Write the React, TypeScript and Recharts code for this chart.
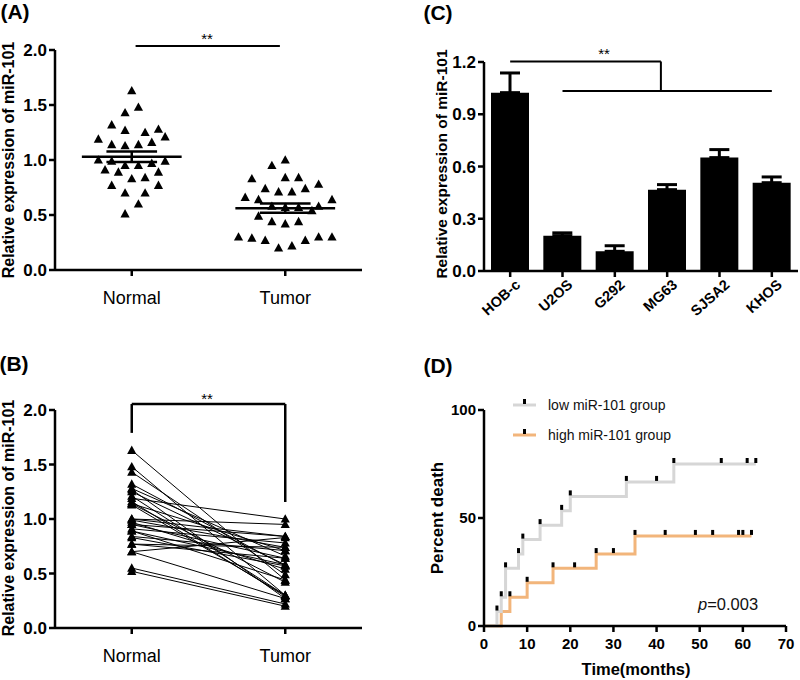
import React from "react";
import {
  ScatterChart,
  Scatter,
  LineChart,
  Line,
  BarChart,
  Bar,
  ErrorBar,
  ComposedChart,
  XAxis,
  YAxis,
  ReferenceLine,
} from "recharts";

const FONT = "'Liberation Sans', Arial, Helvetica, sans-serif";

// (A) miR-101 in tissue, with the column each point sits in (half-symbol steps)
const normalValues = [1.63, 1.43, 1.48, 1.32, 1.27, 1.25, 1.28, 1.19, 1.21, 1.14, 1.13, 1.14, 1.16, 1.0, 0.99, 0.95, 0.95, 0.97, 0.99, 0.91, 0.89, 0.89, 0.83, 0.84, 0.77, 0.77, 0.7, 0.7, 0.6, 0.51];
const normalColumns = [0, -1, 1, -3, -1, 2, 4, -5, 5, -3, -1, 1, 3, -5, -3, -1, 1, 3, 5, -4, -2, 4, 0, 2, -3, 4, -1, 2, 1, -1];
const tumorValues = [1.0, 0.95, 0.83, 0.84, 0.84, 0.78, 0.74, 0.71, 0.71, 0.74, 0.66, 0.64, 0.64, 0.58, 0.57, 0.57, 0.58, 0.54, 0.49, 0.44, 0.42, 0.44, 0.3, 0.29, 0.27, 0.27, 0.3, 0.3, 0.2, 0.22];
const tumorColumns = [0, -2, -5, 0, 2, 5, -3, -1, 1, 3, -6, -4, 7, -2, 0, 2, 5, 4, -4, -2, 0, 2, -7, -5, -3, 3, 5, 7, -1, 1];

// (B) paired samples
const pairedNormal = [1.63, 1.48, 1.43, 1.32, 1.28, 1.27, 1.25, 1.21, 1.19, 1.16, 1.14, 1.14, 1.13, 1.0, 1.0, 0.99, 0.97, 0.95, 0.95, 0.91, 0.89, 0.89, 0.84, 0.83, 0.77, 0.77, 0.7, 0.7, 0.55, 0.52];
const pairedTumor = [0.44, 0.3, 0.49, 0.57, 0.66, 0.27, 0.58, 0.3, 1.0, 0.29, 0.71, 0.42, 0.3, 0.95, 0.84, 0.74, 0.54, 0.84, 0.64, 0.78, 0.58, 0.44, 0.71, 0.57, 0.74, 0.64, 0.83, 0.27, 0.22, 0.2];

// (C) cell lines
const cellLines = ["HOB-c", "U2OS", "G292", "MG63", "SJSA2", "KHOS"];
const cellMeans = [1.024, 0.203, 0.113, 0.467, 0.651, 0.507];
const cellErrors = [0.113, 0.016, 0.032, 0.029, 0.046, 0.033];

// (D) Kaplan-Meier, percent death
const lowTimes = [0, 3, 4, 5, 8, 9, 13, 18, 20, 33, 40, 44, 55, 61, 63];
const lowDeath = [0, 6.7, 13.3, 26.7, 33.3, 40, 46.7, 53.3, 60, 66.7, 66.7, 75, 75, 75, 75];
const lowMarks = [3, 4, 5, 8, 9, 13, 18, 20, 33, 40, 44, 55, 61, 63];
const highTimes = [0, 4, 6, 10, 16, 21, 26, 30, 35, 42, 49, 53, 59, 60, 62];
const highDeath = [0, 6.7, 13.3, 20, 26.7, 26.7, 33.3, 33.3, 41.7, 41.7, 41.7, 41.7, 41.7, 41.7, 41.7];
const highMarks = [6, 10, 16, 21, 26, 30, 35, 42, 49, 53, 59, 60, 62];

const GREY = "#d6d6d6";
const ORANGE = "#f2b57b";

const COL_STEP = 0.087;

const mean = (a: number[]) => a.reduce((s, v) => s + v, 0) / a.length;
const sem = (a: number[]) => {
  const m = mean(a);
  const sd = Math.sqrt(a.reduce((s, v) => s + (v - m) ** 2, 0) / (a.length - 1));
  return sd / Math.sqrt(a.length);
};
const stepAt = (times: number[], vals: number[], t: number) => {
  let v = 0;
  times.forEach((tt, i) => {
    if (tt <= t) v = vals[i];
  });
  return v;
};

const Triangle = (p: any) => {
  const { cx, cy } = p;
  if (cx == null || cy == null) return null;
  return <polygon points={`${cx},${cy - 4.8} ${cx + 4.6},${cy + 3.6} ${cx - 4.6},${cy + 3.6}`} fill="#000" />;
};

const Mark = (p: any) => {
  const { cx, cy } = p;
  if (cx == null || cy == null) return null;
  return <rect x={cx - 1.5} y={cy - 6} width={3} height={5} fill="#000" />;
};

const Txt = ({ x, y, size, bold, italic, rotate, children }: any) => (
  <div
    style={{
      position: "absolute",
      left: x,
      top: y,
      fontSize: size,
      fontWeight: bold ? 700 : 400,
      fontStyle: italic ? "italic" : "normal",
      whiteSpace: "nowrap",
      lineHeight: 1,
      transform: `translate(-50%, -50%)${rotate ? ` rotate(${rotate}deg)` : ""}`,
    }}
  >
    {children}
  </div>
);

const axisProps = {
  stroke: "#000",
  strokeWidth: 2.5,
  tickSize: 6,
};
const boldTick = (size: number) => ({ fill: "#000", fontSize: size, fontWeight: 700, fontFamily: FONT });
const plainTick = (size: number) => ({ fill: "#000", fontSize: size, fontFamily: FONT });
const groupName = (v: number) => (v === 1 ? "Normal" : "Tumor");

function PanelA() {
  const normal = normalValues.map((v, i) => ({ x: 1 + normalColumns[i] * COL_STEP, y: v }));
  const tumor = tumorValues.map((v, i) => ({ x: 3 + tumorColumns[i] * COL_STEP, y: v }));
  const groups = [
    { c: 1, m: mean(normalValues), e: sem(normalValues) },
    { c: 3, m: mean(tumorValues), e: sem(tumorValues) },
  ];
  return (
    <ScatterChart width={380} height={310} margin={{ top: 50, right: 18, bottom: 10, left: 0 }}>
      <XAxis type="number" dataKey="x" domain={[0, 4]} ticks={[1, 3]} tickFormatter={groupName} height={30} tickMargin={15} tick={plainTick(18)} {...axisProps} />
      <YAxis type="number" dataKey="y" domain={[0, 2]} ticks={[0, 0.5, 1, 1.5, 2]} tickFormatter={(v: number) => v.toFixed(1)} width={55} tick={boldTick(17)} {...axisProps} />
      <Scatter data={normal} shape={<Triangle />} isAnimationActive={false} />
      <Scatter data={tumor} shape={<Triangle />} isAnimationActive={false} />
      {groups.map((g) => (
        <React.Fragment key={g.c}>
          <ReferenceLine segment={[{ x: g.c - 0.65, y: g.m }, { x: g.c + 0.65, y: g.m }]} stroke="#000" strokeWidth={2.5} />
          <ReferenceLine segment={[{ x: g.c - 0.33, y: g.m + g.e }, { x: g.c + 0.33, y: g.m + g.e }]} stroke="#000" strokeWidth={2.5} />
          <ReferenceLine segment={[{ x: g.c - 0.33, y: g.m - g.e }, { x: g.c + 0.33, y: g.m - g.e }]} stroke="#000" strokeWidth={2.5} />
          <ReferenceLine segment={[{ x: g.c, y: g.m - g.e }, { x: g.c, y: g.m + g.e }]} stroke="#000" strokeWidth={2.5} />
        </React.Fragment>
      ))}
      <ReferenceLine segment={[{ x: 1.05, y: 2.036 }, { x: 2.93, y: 2.036 }]} stroke="#000" strokeWidth={2} ifOverflow="visible" />
    </ScatterChart>
  );
}

function PanelB() {
  const rows = [1, 3].map((x) => {
    const row: any = { x };
    pairedNormal.forEach((v, i) => {
      row[`p${i}`] = x === 1 ? v : pairedTumor[i];
    });
    return row;
  });
  return (
    <LineChart width={380} height={360} data={rows} margin={{ top: 90, right: 18, bottom: 22, left: 0 }}>
      <XAxis type="number" dataKey="x" domain={[0, 4]} ticks={[1, 3]} tickFormatter={groupName} height={30} tickMargin={15} tick={plainTick(18)} {...axisProps} />
      <YAxis type="number" domain={[0, 2]} ticks={[0, 0.5, 1, 1.5, 2]} tickFormatter={(v: number) => v.toFixed(1)} width={55} tick={boldTick(17)} {...axisProps} />
      {pairedNormal.map((_, i) => (
        <Line
          key={i}
          dataKey={`p${i}`}
          stroke="#000"
          strokeWidth={1}
          isAnimationActive={false}
          dot={(p: any) => <Triangle key={`d${i}-${p.index}`} cx={p.cx} cy={p.cy} />}
        />
      ))}
      <ReferenceLine segment={[{ x: 1, y: 2.055 }, { x: 3, y: 2.055 }]} stroke="#000" strokeWidth={2.5} ifOverflow="visible" />
      <ReferenceLine segment={[{ x: 1, y: 2.055 }, { x: 1, y: 1.79 }]} stroke="#000" strokeWidth={2.5} ifOverflow="visible" />
      <ReferenceLine segment={[{ x: 3, y: 2.055 }, { x: 3, y: 1.156 }]} stroke="#000" strokeWidth={2.5} ifOverflow="visible" />
    </LineChart>
  );
}

const CellTick = (p: any) => {
  const { x, y, payload } = p;
  const ax = x + 11;
  const ay = y + 7;
  return (
    <text x={ax} y={ay} transform={`rotate(-42 ${ax} ${ay})`} textAnchor="end" fill="#000" fontSize={14.5} fontWeight={700} fontFamily={FONT}>
      {cellLines[payload.value]}
    </text>
  );
};

function PanelC() {
  const rows = cellLines.map((name, i) => ({ i, name, v: cellMeans[i], err: [0, cellErrors[i]] }));
  return (
    <BarChart width={400} height={320} data={rows} margin={{ top: 62, right: 2, bottom: 0, left: 0 }}>
      <XAxis type="number" dataKey="i" domain={[-0.5, 5.5]} ticks={[0, 1, 2, 3, 4, 5]} height={49} tick={<CellTick />} {...axisProps} />
      <YAxis type="number" domain={[0, 1.2]} ticks={[0, 0.3, 0.6, 0.9, 1.2]} tickFormatter={(v: number) => v.toFixed(1)} width={84} tick={boldTick(17)} {...axisProps} />
      <Bar dataKey="v" fill="#000" barSize={38} isAnimationActive={false}>
        <ErrorBar dataKey="err" width={10} strokeWidth={3} stroke="#000" direction="y" />
      </Bar>
      <ReferenceLine segment={[{ x: 0, y: 1.203 }, { x: 2.88, y: 1.203 }]} stroke="#000" strokeWidth={2} ifOverflow="visible" />
      <ReferenceLine segment={[{ x: 2.88, y: 1.203 }, { x: 2.88, y: 1.033 }]} stroke="#000" strokeWidth={2} ifOverflow="visible" />
      <ReferenceLine segment={[{ x: 1, y: 1.033 }, { x: 5, y: 1.033 }]} stroke="#000" strokeWidth={2} ifOverflow="visible" />
    </BarChart>
  );
}

function PanelD() {
  const low = lowTimes.map((t, i) => ({ t, pct: lowDeath[i] }));
  const high = highTimes.map((t, i) => ({ t, pct: highDeath[i] }));
  const lowM = lowMarks.map((t) => ({ t, pct: stepAt(lowTimes, lowDeath, t) }));
  const highM = highMarks.map((t) => ({ t, pct: stepAt(highTimes, highDeath, t) }));
  return (
    <ComposedChart width={400} height={360} margin={{ top: 90, right: 14, bottom: 24, left: 0 }}>
      <XAxis type="number" dataKey="t" domain={[0, 70]} ticks={[0, 10, 20, 30, 40, 50, 60, 70]} height={30} tickMargin={6} tick={boldTick(15)} {...axisProps} />
      <YAxis type="number" dataKey="pct" domain={[0, 100]} ticks={[0, 50, 100]} width={84} tick={boldTick(15)} {...axisProps} />
      <Line data={high} dataKey="pct" type="stepAfter" stroke={ORANGE} strokeWidth={3} dot={false} isAnimationActive={false} />
      <Line data={low} dataKey="pct" type="stepAfter" stroke={GREY} strokeWidth={3} dot={false} isAnimationActive={false} />
      <Scatter data={highM} dataKey="pct" shape={<Mark />} isAnimationActive={false} />
      <Scatter data={lowM} dataKey="pct" shape={<Mark />} isAnimationActive={false} />
    </ComposedChart>
  );
}

const LegendRow = ({ y, color, label }: any) => (
  <div style={{ position: "absolute", left: 512, top: y - 10, height: 20, display: "flex", alignItems: "center" }}>
    <svg width={26} height={20}>
      <line x1={1} y1={10} x2={24} y2={10} stroke={color} strokeWidth={3} />
      <rect x={11} y={4} width={3} height={5} fill="#000" />
    </svg>
    <span style={{ marginLeft: 10, fontSize: 14, color: "#111" }}>{label}</span>
  </div>
);

export default function App() {
  return (
    <div style={{ position: "absolute", left: 0, top: 0, width: 800, height: 680, background: "#fff", fontFamily: FONT, color: "#000" }}>
      <div style={{ position: "absolute", left: 0, top: 0 }}>
        <PanelA />
      </div>
      <div style={{ position: "absolute", left: 0, top: 320 }}>
        <PanelB />
      </div>
      <div style={{ position: "absolute", left: 400, top: 0 }}>
        <PanelC />
      </div>
      <div style={{ position: "absolute", left: 400, top: 320 }}>
        <PanelD />
      </div>

      <Txt x={15} y={11} size={21} bold>(A)</Txt>
      <Txt x={14} y={363} size={21} bold>(B)</Txt>
      <Txt x={438} y={12} size={21} bold>(C)</Txt>
      <Txt x={438} y={365} size={21} bold>(D)</Txt>

      <Txt x={9} y={160} size={16} bold rotate={-90}>Relative expression of miR-101</Txt>
      <Txt x={9} y={518} size={16} bold rotate={-90}>Relative expression of miR-101</Txt>
      <Txt x={442} y={164} size={15.5} bold rotate={-90}>Relative expression of miR-101</Txt>
      <Txt x={437} y={518} size={17} bold rotate={-90}>Percent death</Txt>
      <Txt x={636} y={669} size={16.5} bold>Time(months)</Txt>

      <Txt x={207} y={38} size={15}>**</Txt>
      <Txt x={207} y={398} size={15}>**</Txt>
      <Txt x={604} y={53} size={15}>**</Txt>

      <LegendRow y={405} color={GREY} label="low miR-101 group" />
      <LegendRow y={435} color={ORANGE} label="high miR-101 group" />

      <div style={{ position: "absolute", left: 698, top: 596, fontSize: 16.5, lineHeight: 1, color: "#111" }}>
        <i>p</i>=0.003
      </div>
    </div>
  );
}
